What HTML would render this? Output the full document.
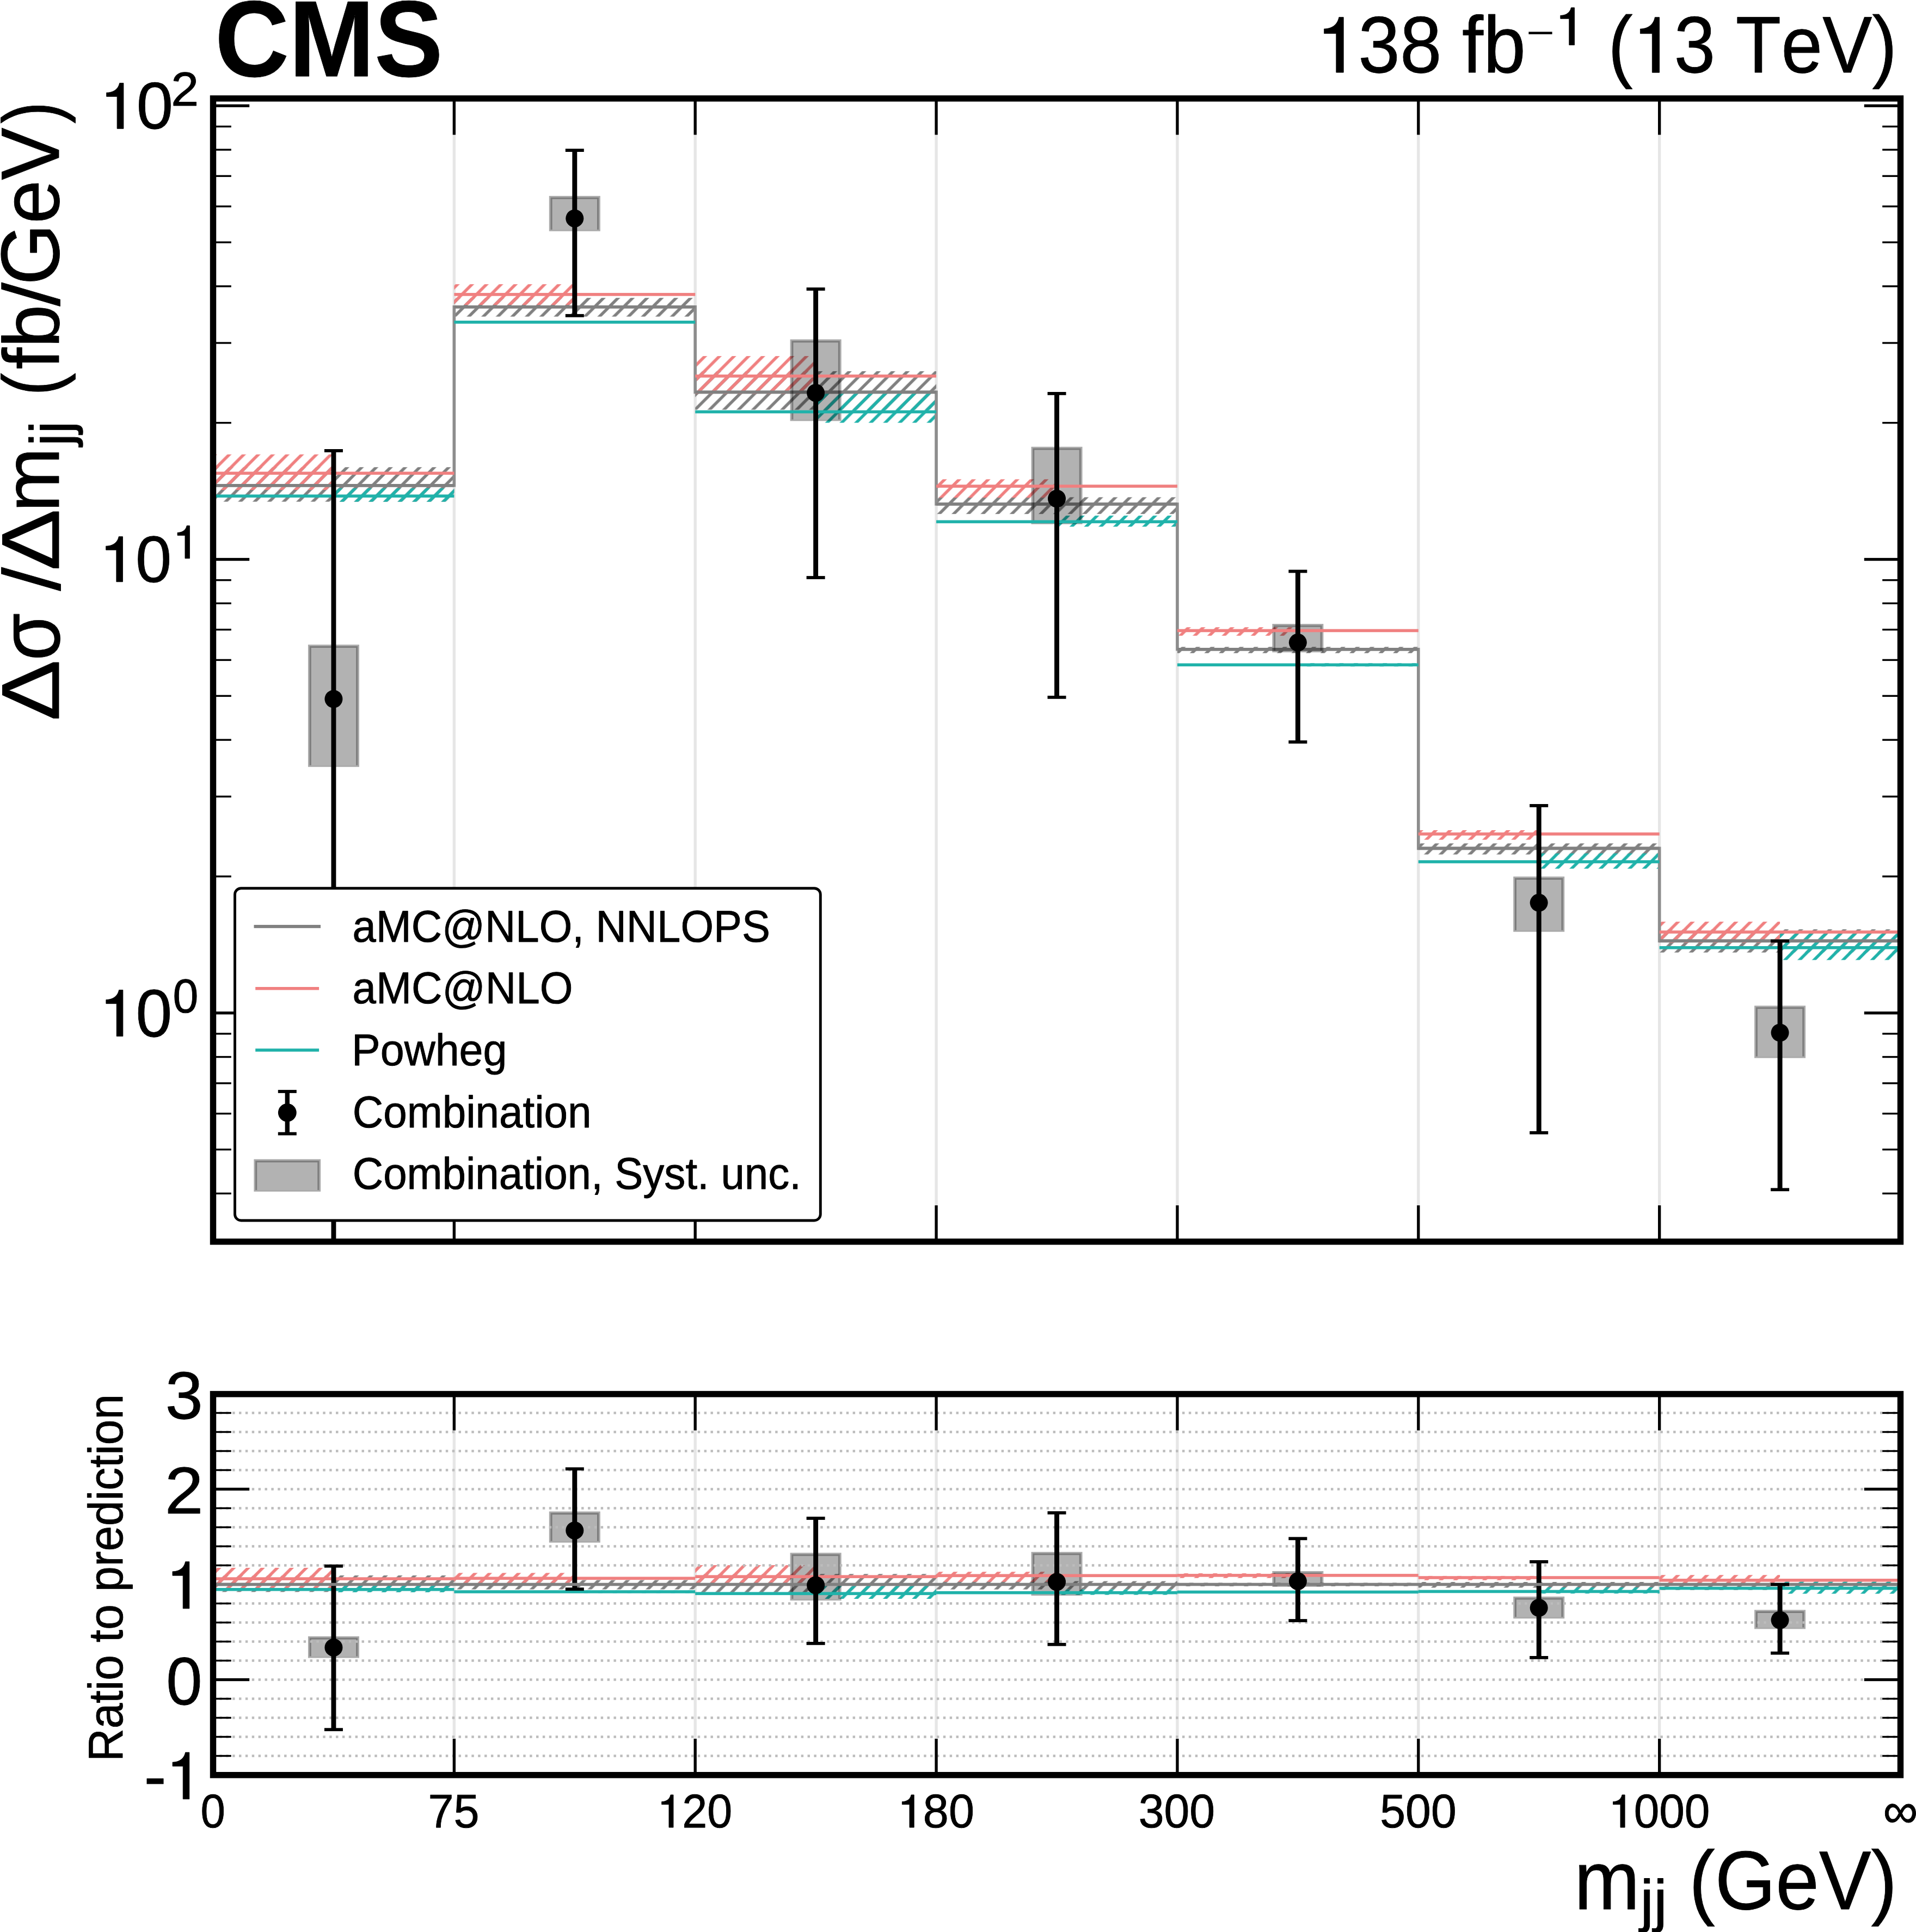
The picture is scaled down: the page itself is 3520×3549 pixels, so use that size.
<!DOCTYPE html>
<html><head><meta charset="utf-8"><title>CMS mjj</title>
<style>
html,body{margin:0;padding:0;background:#fff;width:3520px;height:3549px;overflow:hidden}
svg{display:block}
text{font-family:"Liberation Sans",sans-serif;font-kerning:none;font-variant-ligatures:none;text-rendering:geometricPrecision;stroke:#000;stroke-width:0.9px;stroke-linejoin:round}
</style></head>
<body>
<svg width="3520" height="3549" viewBox="0 0 3520 3549">
<rect x="0" y="0" width="3520" height="3549" fill="#fff"/>
<defs>
<pattern id="hr" patternUnits="userSpaceOnUse" x="2.833" y="0" width="26.6667" height="26.6667"><path d="M-13.333,13.333L13.333,-13.333M0,26.667L26.667,0M13.333,40.000L40.000,13.333" stroke="#f08080" stroke-width="5.5" fill="none"/></pattern>
<pattern id="hg" patternUnits="userSpaceOnUse" x="2.833" y="0" width="26.6667" height="26.6667"><path d="M-13.333,13.333L13.333,-13.333M0,26.667L26.667,0M13.333,40.000L40.000,13.333" stroke="#808080" stroke-width="5.5" fill="none"/></pattern>
<pattern id="ht" patternUnits="userSpaceOnUse" x="2.833" y="0" width="26.6667" height="26.6667"><path d="M-13.333,13.333L13.333,-13.333M0,26.667L26.667,0M13.333,40.000L40.000,13.333" stroke="#20b2aa" stroke-width="5.5" fill="none"/></pattern>
<clipPath id="cm"><rect x="391.5" y="180.9" width="3100.0" height="2100.0"/></clipPath>
<clipPath id="cr"><rect x="391.5" y="2560.85" width="3100.0" height="699.8499999999999"/></clipPath>
</defs>
<g clip-path="url(#cm)">
<rect x="831.66" y="180.90" width="5.40" height="2100.00" fill="#e6e6e6"/>
<rect x="1274.51" y="180.90" width="5.40" height="2100.00" fill="#e6e6e6"/>
<rect x="1717.37" y="180.90" width="5.40" height="2100.00" fill="#e6e6e6"/>
<rect x="2160.23" y="180.90" width="5.40" height="2100.00" fill="#e6e6e6"/>
<rect x="2603.09" y="180.90" width="5.40" height="2100.00" fill="#e6e6e6"/>
<rect x="3045.94" y="180.90" width="5.40" height="2100.00" fill="#e6e6e6"/>
<rect x="391.50" y="858.20" width="442.86" height="63.40" fill="url(#hg)"/>
<rect x="391.50" y="834.70" width="221.43" height="65.30" fill="url(#hr)"/>
<rect x="612.93" y="897.00" width="221.43" height="24.70" fill="url(#ht)"/>
<rect x="834.36" y="547.20" width="442.86" height="34.40" fill="url(#hg)"/>
<rect x="834.36" y="522.10" width="221.43" height="38.00" fill="url(#hr)"/>
<rect x="1055.79" y="590.00" width="221.43" height="3.60" fill="url(#ht)"/>
<rect x="1277.21" y="681.90" width="442.86" height="70.70" fill="url(#hg)"/>
<rect x="1277.21" y="654.10" width="221.43" height="69.50" fill="url(#hr)"/>
<rect x="1498.64" y="719.80" width="221.43" height="56.80" fill="url(#ht)"/>
<rect x="1720.07" y="913.40" width="442.86" height="30.80" fill="url(#hg)"/>
<rect x="1720.07" y="880.40" width="221.43" height="33.80" fill="url(#hr)"/>
<rect x="1941.50" y="947.20" width="221.43" height="20.30" fill="url(#ht)"/>
<rect x="2162.93" y="1188.30" width="442.86" height="11.50" fill="url(#hg)"/>
<rect x="2162.93" y="1152.20" width="221.43" height="15.60" fill="url(#hr)"/>
<rect x="2384.36" y="1218.30" width="221.43" height="6.00" fill="url(#ht)"/>
<rect x="2605.79" y="1549.30" width="442.86" height="20.30" fill="url(#hg)"/>
<rect x="2605.79" y="1525.00" width="221.43" height="17.60" fill="url(#hr)"/>
<rect x="2827.21" y="1567.60" width="221.43" height="28.10" fill="url(#ht)"/>
<rect x="3048.64" y="1707.10" width="442.86" height="42.60" fill="url(#hg)"/>
<rect x="3048.64" y="1693.10" width="221.43" height="39.00" fill="url(#hr)"/>
<rect x="3270.07" y="1715.60" width="221.43" height="47.90" fill="url(#ht)"/>
<path d="M391.50,891.80L834.36,891.80L834.36,563.80L1277.21,563.80L1277.21,720.40L1720.07,720.40L1720.07,926.00L2162.93,926.00L2162.93,1192.80L2605.79,1192.80L2605.79,1558.40L3048.64,1558.40L3048.64,1728.40L3491.50,1728.40" fill="none" stroke="#8d8d8d" stroke-width="5.6" stroke-linejoin="miter"/>
<rect x="391.50" y="889.00" width="442.86" height="5.60" fill="#808080"/>
<rect x="834.36" y="561.00" width="442.86" height="5.60" fill="#808080"/>
<rect x="1277.21" y="717.60" width="442.86" height="5.60" fill="#808080"/>
<rect x="1720.07" y="923.20" width="442.86" height="5.60" fill="#808080"/>
<rect x="2162.93" y="1190.00" width="442.86" height="5.60" fill="#808080"/>
<rect x="2605.79" y="1555.60" width="442.86" height="5.60" fill="#808080"/>
<rect x="3048.64" y="1725.60" width="442.86" height="5.60" fill="#808080"/>
<rect x="565.93" y="1184.20" width="94.00" height="224.60" fill="rgba(0,0,0,0.3)"/><rect x="567.33" y="1185.60" width="91.20" height="221.80" fill="none" stroke="rgba(0,0,0,0.045)" stroke-width="2.8"/><path d="M570.23,1405.80V1188.50H655.63V1405.80" fill="none" stroke="rgba(0,0,0,0.3)" stroke-width="3.0" stroke-linejoin="miter"/>
<rect x="1008.79" y="359.90" width="94.00" height="64.80" fill="rgba(0,0,0,0.3)"/><rect x="1010.19" y="361.30" width="91.20" height="62.00" fill="none" stroke="rgba(0,0,0,0.045)" stroke-width="2.8"/><path d="M1013.09,421.70V364.20H1098.49V421.70" fill="none" stroke="rgba(0,0,0,0.3)" stroke-width="3.0" stroke-linejoin="miter"/>
<rect x="1451.64" y="623.40" width="94.00" height="150.00" fill="rgba(0,0,0,0.3)"/><rect x="1453.04" y="624.80" width="91.20" height="147.20" fill="none" stroke="rgba(0,0,0,0.045)" stroke-width="2.8"/><path d="M1455.94,770.40V627.70H1541.34V770.40" fill="none" stroke="rgba(0,0,0,0.3)" stroke-width="3.0" stroke-linejoin="miter"/>
<rect x="1894.50" y="820.70" width="94.00" height="142.30" fill="rgba(0,0,0,0.3)"/><rect x="1895.90" y="822.10" width="91.20" height="139.50" fill="none" stroke="rgba(0,0,0,0.045)" stroke-width="2.8"/><path d="M1898.80,960.00V825.00H1984.20V960.00" fill="none" stroke="rgba(0,0,0,0.3)" stroke-width="3.0" stroke-linejoin="miter"/>
<rect x="2337.36" y="1146.00" width="94.00" height="52.30" fill="rgba(0,0,0,0.3)"/><rect x="2338.76" y="1147.40" width="91.20" height="49.50" fill="none" stroke="rgba(0,0,0,0.045)" stroke-width="2.8"/><path d="M2341.66,1195.30V1150.30H2427.06V1195.30" fill="none" stroke="rgba(0,0,0,0.3)" stroke-width="3.0" stroke-linejoin="miter"/>
<rect x="2780.21" y="1610.20" width="94.00" height="101.50" fill="rgba(0,0,0,0.3)"/><rect x="2781.61" y="1611.60" width="91.20" height="98.70" fill="none" stroke="rgba(0,0,0,0.045)" stroke-width="2.8"/><path d="M2784.51,1708.70V1614.50H2869.91V1708.70" fill="none" stroke="rgba(0,0,0,0.3)" stroke-width="3.0" stroke-linejoin="miter"/>
<rect x="3223.07" y="1847.40" width="94.00" height="96.20" fill="rgba(0,0,0,0.3)"/><rect x="3224.47" y="1848.80" width="91.20" height="93.40" fill="none" stroke="rgba(0,0,0,0.045)" stroke-width="2.8"/><path d="M3227.37,1940.60V1851.70H3312.77V1940.60" fill="none" stroke="rgba(0,0,0,0.3)" stroke-width="3.0" stroke-linejoin="miter"/>
<rect x="391.50" y="866.50" width="442.86" height="5.60" fill="#f08080"/>
<rect x="391.50" y="908.40" width="442.86" height="5.60" fill="#20b2aa"/>
<rect x="834.36" y="538.10" width="442.86" height="5.60" fill="#f08080"/>
<rect x="834.36" y="589.00" width="442.86" height="5.60" fill="#20b2aa"/>
<rect x="1277.21" y="688.00" width="442.86" height="5.60" fill="#f08080"/>
<rect x="1277.21" y="753.70" width="442.86" height="5.60" fill="#20b2aa"/>
<rect x="1720.07" y="890.30" width="442.86" height="5.60" fill="#f08080"/>
<rect x="1720.07" y="955.60" width="442.86" height="5.60" fill="#20b2aa"/>
<rect x="2162.93" y="1155.60" width="442.86" height="5.60" fill="#f08080"/>
<rect x="2162.93" y="1218.50" width="442.86" height="5.60" fill="#20b2aa"/>
<rect x="2605.79" y="1529.20" width="442.86" height="5.60" fill="#f08080"/>
<rect x="2605.79" y="1580.20" width="442.86" height="5.60" fill="#20b2aa"/>
<rect x="3048.64" y="1709.30" width="442.86" height="5.60" fill="#f08080"/>
<rect x="3048.64" y="1738.00" width="442.86" height="5.60" fill="#20b2aa"/>
<rect x="608.48" y="827.90" width="8.90" height="1463.00" fill="#000"/>
<rect x="595.93" y="825.00" width="34.00" height="5.80" fill="#000"/>
<circle cx="612.93" cy="1284.00" r="16.50" fill="#000"/>
<rect x="1051.34" y="276.10" width="8.90" height="303.70" fill="#000"/>
<rect x="1038.79" y="273.20" width="34.00" height="5.80" fill="#000"/><rect x="1038.79" y="576.90" width="34.00" height="5.80" fill="#000"/>
<circle cx="1055.79" cy="401.20" r="16.50" fill="#000"/>
<rect x="1494.19" y="531.00" width="8.90" height="530.00" fill="#000"/>
<rect x="1481.64" y="528.10" width="34.00" height="5.80" fill="#000"/><rect x="1481.64" y="1058.10" width="34.00" height="5.80" fill="#000"/>
<circle cx="1498.64" cy="721.70" r="16.50" fill="#000"/>
<rect x="1937.05" y="722.90" width="8.90" height="558.00" fill="#000"/>
<rect x="1924.50" y="720.00" width="34.00" height="5.80" fill="#000"/><rect x="1924.50" y="1278.00" width="34.00" height="5.80" fill="#000"/>
<circle cx="1941.50" cy="916.00" r="16.50" fill="#000"/>
<rect x="2379.91" y="1049.50" width="8.90" height="313.50" fill="#000"/>
<rect x="2367.36" y="1046.60" width="34.00" height="5.80" fill="#000"/><rect x="2367.36" y="1360.10" width="34.00" height="5.80" fill="#000"/>
<circle cx="2384.36" cy="1180.30" r="16.50" fill="#000"/>
<rect x="2822.76" y="1479.90" width="8.90" height="600.90" fill="#000"/>
<rect x="2810.21" y="1477.00" width="34.00" height="5.80" fill="#000"/><rect x="2810.21" y="2077.90" width="34.00" height="5.80" fill="#000"/>
<circle cx="2827.21" cy="1658.30" r="16.50" fill="#000"/>
<rect x="3265.62" y="1728.60" width="8.90" height="456.70" fill="#000"/>
<rect x="3253.07" y="1725.70" width="34.00" height="5.80" fill="#000"/><rect x="3253.07" y="2182.40" width="34.00" height="5.80" fill="#000"/>
<circle cx="3270.07" cy="1897.00" r="16.50" fill="#000"/>
</g>
<g clip-path="url(#cr)">
<rect x="831.66" y="2560.85" width="5.40" height="699.85" fill="#e6e6e6"/>
<rect x="1274.51" y="2560.85" width="5.40" height="699.85" fill="#e6e6e6"/>
<rect x="1717.37" y="2560.85" width="5.40" height="699.85" fill="#e6e6e6"/>
<rect x="2160.23" y="2560.85" width="5.40" height="699.85" fill="#e6e6e6"/>
<rect x="2603.09" y="2560.85" width="5.40" height="699.85" fill="#e6e6e6"/>
<rect x="3045.94" y="2560.85" width="5.40" height="699.85" fill="#e6e6e6"/>
<rect x="391.50" y="2894.00" width="442.86" height="30.40" fill="url(#hg)"/>
<rect x="391.50" y="2880.00" width="221.43" height="36.70" fill="url(#hr)"/>
<rect x="612.93" y="2912.90" width="221.43" height="12.00" fill="url(#ht)"/>
<rect x="834.36" y="2902.60" width="442.86" height="17.00" fill="url(#hg)"/>
<rect x="834.36" y="2889.40" width="221.43" height="18.20" fill="url(#hr)"/>
<rect x="1055.79" y="2921.50" width="221.43" height="5.00" fill="url(#ht)"/>
<rect x="1277.21" y="2891.30" width="442.86" height="33.50" fill="url(#hg)"/>
<rect x="1277.21" y="2875.10" width="221.43" height="32.20" fill="url(#hr)"/>
<rect x="1498.64" y="2913.70" width="221.43" height="23.30" fill="url(#ht)"/>
<rect x="1720.07" y="2904.50" width="442.86" height="15.20" fill="url(#hg)"/>
<rect x="1720.07" y="2887.30" width="221.43" height="18.40" fill="url(#hr)"/>
<rect x="1941.50" y="2919.70" width="221.43" height="10.00" fill="url(#ht)"/>
<rect x="2162.93" y="2907.50" width="442.86" height="6.50" fill="url(#hg)"/>
<rect x="2162.93" y="2890.10" width="221.43" height="8.70" fill="url(#hr)"/>
<rect x="2384.36" y="2922.00" width="221.43" height="5.00" fill="url(#ht)"/>
<rect x="2605.79" y="2906.00" width="442.86" height="10.50" fill="url(#hg)"/>
<rect x="2605.79" y="2894.90" width="221.43" height="7.90" fill="url(#hr)"/>
<rect x="2827.21" y="2916.00" width="221.43" height="11.30" fill="url(#ht)"/>
<rect x="3048.64" y="2906.40" width="442.86" height="14.40" fill="url(#hg)"/>
<rect x="3048.64" y="2893.20" width="221.43" height="14.40" fill="url(#hr)"/>
<rect x="3270.07" y="2905.20" width="221.43" height="22.40" fill="url(#ht)"/>
<rect x="565.93" y="3005.80" width="94.00" height="39.80" fill="rgba(0,0,0,0.3)"/><rect x="567.33" y="3007.20" width="91.20" height="37.00" fill="none" stroke="rgba(0,0,0,0.045)" stroke-width="2.8"/><path d="M570.23,3042.60V3010.10H655.63V3042.60" fill="none" stroke="rgba(0,0,0,0.3)" stroke-width="3.0" stroke-linejoin="miter"/>
<rect x="1008.79" y="2776.50" width="94.00" height="57.20" fill="rgba(0,0,0,0.3)"/><rect x="1010.19" y="2777.90" width="91.20" height="54.40" fill="none" stroke="rgba(0,0,0,0.045)" stroke-width="2.8"/><path d="M1013.09,2830.70V2780.80H1098.49V2830.70" fill="none" stroke="rgba(0,0,0,0.3)" stroke-width="3.0" stroke-linejoin="miter"/>
<rect x="1451.64" y="2852.40" width="94.00" height="87.70" fill="rgba(0,0,0,0.3)"/><rect x="1453.04" y="2853.80" width="91.20" height="84.90" fill="none" stroke="rgba(0,0,0,0.045)" stroke-width="2.8"/><path d="M1455.94,2937.10V2856.70H1541.34V2937.10" fill="none" stroke="rgba(0,0,0,0.3)" stroke-width="3.0" stroke-linejoin="miter"/>
<rect x="1894.50" y="2850.80" width="94.00" height="80.40" fill="rgba(0,0,0,0.3)"/><rect x="1895.90" y="2852.20" width="91.20" height="77.60" fill="none" stroke="rgba(0,0,0,0.045)" stroke-width="2.8"/><path d="M1898.80,2928.20V2855.10H1984.20V2928.20" fill="none" stroke="rgba(0,0,0,0.3)" stroke-width="3.0" stroke-linejoin="miter"/>
<rect x="2337.36" y="2886.00" width="94.00" height="28.90" fill="rgba(0,0,0,0.3)"/><rect x="2338.76" y="2887.40" width="91.20" height="26.10" fill="none" stroke="rgba(0,0,0,0.045)" stroke-width="2.8"/><path d="M2341.66,2911.90V2890.30H2427.06V2911.90" fill="none" stroke="rgba(0,0,0,0.3)" stroke-width="3.0" stroke-linejoin="miter"/>
<rect x="2780.21" y="2932.80" width="94.00" height="40.40" fill="rgba(0,0,0,0.3)"/><rect x="2781.61" y="2934.20" width="91.20" height="37.60" fill="none" stroke="rgba(0,0,0,0.045)" stroke-width="2.8"/><path d="M2784.51,2970.20V2937.10H2869.91V2970.20" fill="none" stroke="rgba(0,0,0,0.3)" stroke-width="3.0" stroke-linejoin="miter"/>
<rect x="3223.07" y="2957.30" width="94.00" height="35.10" fill="rgba(0,0,0,0.3)"/><rect x="3224.47" y="2958.70" width="91.20" height="32.30" fill="none" stroke="rgba(0,0,0,0.045)" stroke-width="2.8"/><path d="M3227.37,2989.40V2961.60H3312.77V2989.40" fill="none" stroke="rgba(0,0,0,0.3)" stroke-width="3.0" stroke-linejoin="miter"/>
<rect x="391.50" y="2897.30" width="442.86" height="5.60" fill="#f08080"/>
<rect x="391.50" y="2917.00" width="442.86" height="5.60" fill="#20b2aa"/>
<rect x="834.36" y="2896.50" width="442.86" height="5.60" fill="#f08080"/>
<rect x="834.36" y="2921.20" width="442.86" height="5.60" fill="#20b2aa"/>
<rect x="1277.21" y="2893.40" width="442.86" height="5.60" fill="#f08080"/>
<rect x="1277.21" y="2924.50" width="442.86" height="5.60" fill="#20b2aa"/>
<rect x="1720.07" y="2891.50" width="442.86" height="5.60" fill="#f08080"/>
<rect x="1720.07" y="2922.90" width="442.86" height="5.60" fill="#20b2aa"/>
<rect x="2162.93" y="2891.10" width="442.86" height="5.60" fill="#f08080"/>
<rect x="2162.93" y="2921.70" width="442.86" height="5.60" fill="#20b2aa"/>
<rect x="2605.79" y="2895.20" width="442.86" height="5.60" fill="#f08080"/>
<rect x="2605.79" y="2920.70" width="442.86" height="5.60" fill="#20b2aa"/>
<rect x="3048.64" y="2900.00" width="442.86" height="5.60" fill="#f08080"/>
<rect x="3048.64" y="2914.80" width="442.86" height="5.60" fill="#20b2aa"/>
<line x1="391.50" y1="2595.50" x2="3491.50" y2="2595.50" stroke="#bcbcbc" stroke-width="4.4" stroke-dasharray="4.44 7.43"/>
<line x1="391.50" y1="2630.50" x2="3491.50" y2="2630.50" stroke="#bcbcbc" stroke-width="4.4" stroke-dasharray="4.44 7.43"/>
<line x1="391.50" y1="2665.50" x2="3491.50" y2="2665.50" stroke="#bcbcbc" stroke-width="4.4" stroke-dasharray="4.44 7.43"/>
<line x1="391.50" y1="2700.50" x2="3491.50" y2="2700.50" stroke="#bcbcbc" stroke-width="4.4" stroke-dasharray="4.44 7.43"/>
<line x1="391.50" y1="2735.50" x2="3491.50" y2="2735.50" stroke="#bcbcbc" stroke-width="4.4" stroke-dasharray="4.44 7.43"/>
<line x1="391.50" y1="2770.50" x2="3491.50" y2="2770.50" stroke="#bcbcbc" stroke-width="4.4" stroke-dasharray="4.44 7.43"/>
<line x1="391.50" y1="2805.50" x2="3491.50" y2="2805.50" stroke="#bcbcbc" stroke-width="4.4" stroke-dasharray="4.44 7.43"/>
<line x1="391.50" y1="2840.50" x2="3491.50" y2="2840.50" stroke="#bcbcbc" stroke-width="4.4" stroke-dasharray="4.44 7.43"/>
<line x1="391.50" y1="2875.50" x2="3491.50" y2="2875.50" stroke="#bcbcbc" stroke-width="4.4" stroke-dasharray="4.44 7.43"/>
<line x1="391.50" y1="2910.50" x2="3491.50" y2="2910.50" stroke="#bcbcbc" stroke-width="4.4" stroke-dasharray="4.44 7.43"/>
<line x1="391.50" y1="2945.50" x2="3491.50" y2="2945.50" stroke="#bcbcbc" stroke-width="4.4" stroke-dasharray="4.44 7.43"/>
<line x1="391.50" y1="2980.50" x2="3491.50" y2="2980.50" stroke="#bcbcbc" stroke-width="4.4" stroke-dasharray="4.44 7.43"/>
<line x1="391.50" y1="3015.50" x2="3491.50" y2="3015.50" stroke="#bcbcbc" stroke-width="4.4" stroke-dasharray="4.44 7.43"/>
<line x1="391.50" y1="3050.50" x2="3491.50" y2="3050.50" stroke="#bcbcbc" stroke-width="4.4" stroke-dasharray="4.44 7.43"/>
<line x1="391.50" y1="3085.50" x2="3491.50" y2="3085.50" stroke="#bcbcbc" stroke-width="4.4" stroke-dasharray="4.44 7.43"/>
<line x1="391.50" y1="3120.50" x2="3491.50" y2="3120.50" stroke="#bcbcbc" stroke-width="4.4" stroke-dasharray="4.44 7.43"/>
<line x1="391.50" y1="3155.50" x2="3491.50" y2="3155.50" stroke="#bcbcbc" stroke-width="4.4" stroke-dasharray="4.44 7.43"/>
<line x1="391.50" y1="3190.50" x2="3491.50" y2="3190.50" stroke="#bcbcbc" stroke-width="4.4" stroke-dasharray="4.44 7.43"/>
<line x1="391.50" y1="3225.50" x2="3491.50" y2="3225.50" stroke="#bcbcbc" stroke-width="4.4" stroke-dasharray="4.44 7.43"/>
<rect x="608.48" y="2876.80" width="8.90" height="300.40" fill="#000"/>
<rect x="1051.34" y="2698.30" width="8.90" height="220.90" fill="#000"/>
<rect x="1494.19" y="2789.00" width="8.90" height="229.90" fill="#000"/>
<rect x="1937.05" y="2779.00" width="8.90" height="241.80" fill="#000"/>
<rect x="2379.91" y="2826.30" width="8.90" height="150.70" fill="#000"/>
<rect x="2822.76" y="2868.90" width="8.90" height="176.00" fill="#000"/>
<rect x="3265.62" y="2910.60" width="8.90" height="126.10" fill="#000"/>
</g>
<rect x="391.50" y="2190.68" width="33.30" height="3.4" fill="#000"/>
<rect x="3458.20" y="2190.68" width="33.30" height="3.4" fill="#000"/>
<rect x="391.50" y="2109.93" width="33.30" height="3.4" fill="#000"/>
<rect x="3458.20" y="2109.93" width="33.30" height="3.4" fill="#000"/>
<rect x="391.50" y="2043.96" width="33.30" height="3.4" fill="#000"/>
<rect x="3458.20" y="2043.96" width="33.30" height="3.4" fill="#000"/>
<rect x="391.50" y="1988.17" width="33.30" height="3.4" fill="#000"/>
<rect x="3458.20" y="1988.17" width="33.30" height="3.4" fill="#000"/>
<rect x="391.50" y="1939.85" width="33.30" height="3.4" fill="#000"/>
<rect x="3458.20" y="1939.85" width="33.30" height="3.4" fill="#000"/>
<rect x="391.50" y="1897.23" width="33.30" height="3.4" fill="#000"/>
<rect x="3458.20" y="1897.23" width="33.30" height="3.4" fill="#000"/>
<rect x="391.50" y="1858.15" width="66.70" height="5.3" fill="#000"/>
<rect x="3424.80" y="1858.15" width="66.70" height="5.3" fill="#000"/>
<rect x="391.50" y="1608.27" width="33.30" height="3.4" fill="#000"/>
<rect x="3458.20" y="1608.27" width="33.30" height="3.4" fill="#000"/>
<rect x="391.50" y="1461.54" width="33.30" height="3.4" fill="#000"/>
<rect x="3458.20" y="1461.54" width="33.30" height="3.4" fill="#000"/>
<rect x="391.50" y="1357.43" width="33.30" height="3.4" fill="#000"/>
<rect x="3458.20" y="1357.43" width="33.30" height="3.4" fill="#000"/>
<rect x="391.50" y="1276.68" width="33.30" height="3.4" fill="#000"/>
<rect x="3458.20" y="1276.68" width="33.30" height="3.4" fill="#000"/>
<rect x="391.50" y="1210.71" width="33.30" height="3.4" fill="#000"/>
<rect x="3458.20" y="1210.71" width="33.30" height="3.4" fill="#000"/>
<rect x="391.50" y="1154.92" width="33.30" height="3.4" fill="#000"/>
<rect x="3458.20" y="1154.92" width="33.30" height="3.4" fill="#000"/>
<rect x="391.50" y="1106.60" width="33.30" height="3.4" fill="#000"/>
<rect x="3458.20" y="1106.60" width="33.30" height="3.4" fill="#000"/>
<rect x="391.50" y="1063.98" width="33.30" height="3.4" fill="#000"/>
<rect x="3458.20" y="1063.98" width="33.30" height="3.4" fill="#000"/>
<rect x="391.50" y="1024.90" width="66.70" height="5.3" fill="#000"/>
<rect x="3424.80" y="1024.90" width="66.70" height="5.3" fill="#000"/>
<rect x="391.50" y="775.02" width="33.30" height="3.4" fill="#000"/>
<rect x="3458.20" y="775.02" width="33.30" height="3.4" fill="#000"/>
<rect x="391.50" y="628.29" width="33.30" height="3.4" fill="#000"/>
<rect x="3458.20" y="628.29" width="33.30" height="3.4" fill="#000"/>
<rect x="391.50" y="524.18" width="33.30" height="3.4" fill="#000"/>
<rect x="3458.20" y="524.18" width="33.30" height="3.4" fill="#000"/>
<rect x="391.50" y="443.43" width="33.30" height="3.4" fill="#000"/>
<rect x="3458.20" y="443.43" width="33.30" height="3.4" fill="#000"/>
<rect x="391.50" y="377.46" width="33.30" height="3.4" fill="#000"/>
<rect x="3458.20" y="377.46" width="33.30" height="3.4" fill="#000"/>
<rect x="391.50" y="321.67" width="33.30" height="3.4" fill="#000"/>
<rect x="3458.20" y="321.67" width="33.30" height="3.4" fill="#000"/>
<rect x="391.50" y="273.35" width="33.30" height="3.4" fill="#000"/>
<rect x="3458.20" y="273.35" width="33.30" height="3.4" fill="#000"/>
<rect x="391.50" y="230.73" width="33.30" height="3.4" fill="#000"/>
<rect x="3458.20" y="230.73" width="33.30" height="3.4" fill="#000"/>
<rect x="391.50" y="191.65" width="66.70" height="5.3" fill="#000"/>
<rect x="3424.80" y="191.65" width="66.70" height="5.3" fill="#000"/>
<rect x="831.71" y="180.90" width="5.3" height="66.70" fill="#000"/>
<rect x="831.71" y="2214.20" width="5.3" height="66.70" fill="#000"/>
<rect x="831.71" y="2560.85" width="5.3" height="66.70" fill="#000"/>
<rect x="831.71" y="3194.00" width="5.3" height="66.70" fill="#000"/>
<rect x="1274.56" y="180.90" width="5.3" height="66.70" fill="#000"/>
<rect x="1274.56" y="2214.20" width="5.3" height="66.70" fill="#000"/>
<rect x="1274.56" y="2560.85" width="5.3" height="66.70" fill="#000"/>
<rect x="1274.56" y="3194.00" width="5.3" height="66.70" fill="#000"/>
<rect x="1717.42" y="180.90" width="5.3" height="66.70" fill="#000"/>
<rect x="1717.42" y="2214.20" width="5.3" height="66.70" fill="#000"/>
<rect x="1717.42" y="2560.85" width="5.3" height="66.70" fill="#000"/>
<rect x="1717.42" y="3194.00" width="5.3" height="66.70" fill="#000"/>
<rect x="2160.28" y="180.90" width="5.3" height="66.70" fill="#000"/>
<rect x="2160.28" y="2214.20" width="5.3" height="66.70" fill="#000"/>
<rect x="2160.28" y="2560.85" width="5.3" height="66.70" fill="#000"/>
<rect x="2160.28" y="3194.00" width="5.3" height="66.70" fill="#000"/>
<rect x="2603.14" y="180.90" width="5.3" height="66.70" fill="#000"/>
<rect x="2603.14" y="2214.20" width="5.3" height="66.70" fill="#000"/>
<rect x="2603.14" y="2560.85" width="5.3" height="66.70" fill="#000"/>
<rect x="2603.14" y="3194.00" width="5.3" height="66.70" fill="#000"/>
<rect x="3045.99" y="180.90" width="5.3" height="66.70" fill="#000"/>
<rect x="3045.99" y="2214.20" width="5.3" height="66.70" fill="#000"/>
<rect x="3045.99" y="2560.85" width="5.3" height="66.70" fill="#000"/>
<rect x="3045.99" y="3194.00" width="5.3" height="66.70" fill="#000"/>
<rect x="391.50" y="2557.85" width="66.70" height="5.3" fill="#000"/>
<rect x="3424.80" y="2557.85" width="66.70" height="5.3" fill="#000"/>
<rect x="391.50" y="2593.80" width="33.30" height="3.4" fill="#000"/>
<rect x="3458.20" y="2593.80" width="33.30" height="3.4" fill="#000"/>
<rect x="391.50" y="2628.80" width="33.30" height="3.4" fill="#000"/>
<rect x="3458.20" y="2628.80" width="33.30" height="3.4" fill="#000"/>
<rect x="391.50" y="2663.80" width="33.30" height="3.4" fill="#000"/>
<rect x="3458.20" y="2663.80" width="33.30" height="3.4" fill="#000"/>
<rect x="391.50" y="2698.80" width="33.30" height="3.4" fill="#000"/>
<rect x="3458.20" y="2698.80" width="33.30" height="3.4" fill="#000"/>
<rect x="391.50" y="2732.85" width="66.70" height="5.3" fill="#000"/>
<rect x="3424.80" y="2732.85" width="66.70" height="5.3" fill="#000"/>
<rect x="391.50" y="2768.80" width="33.30" height="3.4" fill="#000"/>
<rect x="3458.20" y="2768.80" width="33.30" height="3.4" fill="#000"/>
<rect x="391.50" y="2803.80" width="33.30" height="3.4" fill="#000"/>
<rect x="3458.20" y="2803.80" width="33.30" height="3.4" fill="#000"/>
<rect x="391.50" y="2838.80" width="33.30" height="3.4" fill="#000"/>
<rect x="3458.20" y="2838.80" width="33.30" height="3.4" fill="#000"/>
<rect x="391.50" y="2873.80" width="33.30" height="3.4" fill="#000"/>
<rect x="3458.20" y="2873.80" width="33.30" height="3.4" fill="#000"/>
<rect x="391.50" y="2907.85" width="66.70" height="5.3" fill="#000"/>
<rect x="3424.80" y="2907.85" width="66.70" height="5.3" fill="#000"/>
<rect x="391.50" y="2943.80" width="33.30" height="3.4" fill="#000"/>
<rect x="3458.20" y="2943.80" width="33.30" height="3.4" fill="#000"/>
<rect x="391.50" y="2978.80" width="33.30" height="3.4" fill="#000"/>
<rect x="3458.20" y="2978.80" width="33.30" height="3.4" fill="#000"/>
<rect x="391.50" y="3013.80" width="33.30" height="3.4" fill="#000"/>
<rect x="3458.20" y="3013.80" width="33.30" height="3.4" fill="#000"/>
<rect x="391.50" y="3048.80" width="33.30" height="3.4" fill="#000"/>
<rect x="3458.20" y="3048.80" width="33.30" height="3.4" fill="#000"/>
<rect x="391.50" y="3082.85" width="66.70" height="5.3" fill="#000"/>
<rect x="3424.80" y="3082.85" width="66.70" height="5.3" fill="#000"/>
<rect x="391.50" y="3118.80" width="33.30" height="3.4" fill="#000"/>
<rect x="3458.20" y="3118.80" width="33.30" height="3.4" fill="#000"/>
<rect x="391.50" y="3153.80" width="33.30" height="3.4" fill="#000"/>
<rect x="3458.20" y="3153.80" width="33.30" height="3.4" fill="#000"/>
<rect x="391.50" y="3188.80" width="33.30" height="3.4" fill="#000"/>
<rect x="3458.20" y="3188.80" width="33.30" height="3.4" fill="#000"/>
<rect x="391.50" y="3223.80" width="33.30" height="3.4" fill="#000"/>
<rect x="3458.20" y="3223.80" width="33.30" height="3.4" fill="#000"/>
<rect x="391.50" y="3257.85" width="66.70" height="5.3" fill="#000"/>
<rect x="3424.80" y="3257.85" width="66.70" height="5.3" fill="#000"/>
<g clip-path="url(#cr)">
<rect x="391.50" y="2907.70" width="3100.00" height="5.60" fill="#808080"/>
<rect x="595.93" y="2873.90" width="34.00" height="5.80" fill="#000"/><rect x="595.93" y="3174.30" width="34.00" height="5.80" fill="#000"/>
<circle cx="612.93" cy="3026.40" r="16.50" fill="#000"/>
<rect x="1038.79" y="2695.40" width="34.00" height="5.80" fill="#000"/><rect x="1038.79" y="2916.30" width="34.00" height="5.80" fill="#000"/>
<circle cx="1055.79" cy="2811.40" r="16.50" fill="#000"/>
<rect x="1481.64" y="2786.10" width="34.00" height="5.80" fill="#000"/><rect x="1481.64" y="3016.00" width="34.00" height="5.80" fill="#000"/>
<circle cx="1498.64" cy="2911.90" r="16.50" fill="#000"/>
<rect x="1924.50" y="2776.10" width="34.00" height="5.80" fill="#000"/><rect x="1924.50" y="3017.90" width="34.00" height="5.80" fill="#000"/>
<circle cx="1941.50" cy="2905.90" r="16.50" fill="#000"/>
<rect x="2367.36" y="2823.40" width="34.00" height="5.80" fill="#000"/><rect x="2367.36" y="2974.10" width="34.00" height="5.80" fill="#000"/>
<circle cx="2384.36" cy="2904.70" r="16.50" fill="#000"/>
<rect x="2810.21" y="2866.00" width="34.00" height="5.80" fill="#000"/><rect x="2810.21" y="3042.00" width="34.00" height="5.80" fill="#000"/>
<circle cx="2827.21" cy="2953.50" r="16.50" fill="#000"/>
<rect x="3253.07" y="2907.70" width="34.00" height="5.80" fill="#000"/><rect x="3253.07" y="3033.80" width="34.00" height="5.80" fill="#000"/>
<circle cx="3270.07" cy="2976.00" r="16.50" fill="#000"/>
</g>
<rect x="391.5" y="180.9" width="3100.0" height="2100.0" fill="none" stroke="#000" stroke-width="11.4" stroke-linejoin="miter"/>
<rect x="391.5" y="2560.85" width="3100.0" height="699.8499999999999" fill="none" stroke="#000" stroke-width="11.4" stroke-linejoin="miter"/>
<rect x="431.5" y="1631.7" width="1075.80" height="610.30" rx="11.5" ry="11.5" fill="#fff" stroke="#000" stroke-width="4.9"/>
<rect x="466.50" y="1698.95" width="122.50" height="5.90" fill="#808080"/>
<rect x="469.20" y="1813.00" width="116.90" height="5.60" fill="#f08080"/>
<rect x="469.20" y="1926.20" width="116.90" height="5.60" fill="#20b2aa"/>
<rect x="523.65" y="2005.00" width="8.30" height="77.60" fill="#000"/>
<rect x="510.80" y="2002.10" width="34.00" height="5.80" fill="#000"/><rect x="510.80" y="2079.70" width="34.00" height="5.80" fill="#000"/>
<circle cx="527.80" cy="2043.90" r="16.90" fill="#000"/>
<rect x="466.40" y="2129.40" width="122.70" height="59.50" fill="rgba(0,0,0,0.3)"/><rect x="467.80" y="2130.80" width="119.90" height="56.70" fill="none" stroke="rgba(0,0,0,0.045)" stroke-width="2.8"/><path d="M470.70,2185.90V2133.70H584.80V2185.90" fill="none" stroke="rgba(0,0,0,0.3)" stroke-width="3.0" stroke-linejoin="miter"/>
<g transform="translate(647.49,1729.60) scale(0.9505,1.0000)"><text font-size="81.98" fill="#000">aMC@NLO, NNLOPS</text></g>
<g transform="translate(647.48,1843.00) scale(0.9532,1.0000)"><text font-size="81.98" fill="#000">aMC@NLO</text></g>
<g transform="translate(646.02,1956.50) scale(0.9636,1.0000)"><text font-size="81.98" fill="#000">Powheg</text></g>
<g transform="translate(647.83,2070.50) scale(0.9531,1.0000)"><text font-size="81.98" fill="#000">Combination</text></g>
<g transform="translate(647.84,2184.40) scale(0.9520,1.0000)"><text font-size="81.98" fill="#000">Combination, Syst. unc.</text></g>
<g transform="translate(395.08,139.70) scale(0.9471,1.0000)"><text font-size="198.84" font-weight="bold" fill="#000">CMS</text></g>
<g transform="translate(2418.78,133.10) scale(0.9345,1.0000)"><path transform="translate(0.000,0) scale(0.071965)" d="M735,0L735,-1409L611.7,-1409C561,-1173.7 354.5,-1113.1 207,-1113.1L207,-993.3L536.3,-993.3L536.3,0Z" fill="#000" stroke="#000" stroke-width="12.506" stroke-linejoin="round"/><text x="81.968" font-size="147.38" fill="#000">38</text></g>
<g transform="translate(2685.91,133.10) scale(0.9517,1.0000)"><text font-size="147.38" fill="#000">fb</text></g>
<rect x="2808.4" y="58.4" width="43.2" height="4.5" fill="#000"/>
<g transform="translate(2856.72,82.70) scale(0.9983,1.0000)"><path transform="translate(0.000,0) scale(0.048757)" d="M735,0L735,-1409L611.7,-1409C561,-1173.7 354.5,-1113.1 207,-1113.1L207,-993.3L536.3,-993.3L536.3,0Z" fill="#000" stroke="#000" stroke-width="18.459" stroke-linejoin="round"/></g>
<g transform="translate(2954.25,133.20) scale(0.9250,1.0000)"><text x="0.000" font-size="147.38" fill="#000">(</text><path transform="translate(49.080,0) scale(0.071965)" d="M735,0L735,-1409L611.7,-1409C561,-1173.7 354.5,-1113.1 207,-1113.1L207,-993.3L536.3,-993.3L536.3,0Z" fill="#000" stroke="#000" stroke-width="12.506" stroke-linejoin="round"/><text x="131.048" font-size="147.38" fill="#000">3</text></g>
<g transform="translate(3188.83,133.20) scale(0.9272,1.0000)"><text font-size="147.38" fill="#000">TeV)</text></g>
<g transform="translate(183.46,236.31) scale(0.9956,1.0000)"><path transform="translate(0.000,0) scale(0.059379)" d="M735,0L735,-1409L611.7,-1409C561,-1173.7 354.5,-1113.1 207,-1113.1L207,-993.3L536.3,-993.3L536.3,0Z" fill="#000" stroke="#000" stroke-width="15.157" stroke-linejoin="round"/><text x="67.633" font-size="121.61" fill="#000">0</text></g>
<g transform="translate(314.20,194.20) scale(1.0443,1.0000)"><text font-size="87.65" fill="#000">2</text></g>
<g transform="translate(182.65,1068.72) scale(0.9884,1.0000)"><path transform="translate(0.000,0) scale(0.058897)" d="M735,0L735,-1409L611.7,-1409C561,-1173.7 354.5,-1113.1 207,-1113.1L207,-993.3L536.3,-993.3L536.3,0Z" fill="#000" stroke="#000" stroke-width="15.281" stroke-linejoin="round"/><text x="67.083" font-size="120.62" fill="#000">0</text></g>
<g transform="translate(317.36,1025.80) scale(0.9918,1.0000)"><path transform="translate(0.000,0) scale(0.042583)" d="M735,0L735,-1409L611.7,-1409C561,-1173.7 354.5,-1113.1 207,-1113.1L207,-993.3L536.3,-993.3L536.3,0Z" fill="#000" stroke="#000" stroke-width="21.135" stroke-linejoin="round"/></g>
<g transform="translate(182.78,1903.59) scale(0.9705,1.0000)"><path transform="translate(0.000,0) scale(0.060345)" d="M735,0L735,-1409L611.7,-1409C561,-1173.7 354.5,-1113.1 207,-1113.1L207,-993.3L536.3,-993.3L536.3,0Z" fill="#000" stroke="#000" stroke-width="14.914" stroke-linejoin="round"/><text x="68.733" font-size="123.59" fill="#000">0</text></g>
<g transform="translate(317.61,1860.14) scale(0.9596,1.0000)"><text font-size="87.85" fill="#000">0</text></g>
<g transform="translate(303.78,2605.60) scale(1.0058,1.0000)"><text font-size="123.30" fill="#000">3</text></g>
<g transform="translate(302.70,2779.70) scale(1.0446,1.0000)"><text font-size="121.88" fill="#000">2</text></g>
<g transform="translate(304.93,2954.80) scale(0.9557,1.0000)"><path transform="translate(0.000,0) scale(0.061036)" d="M735,0L735,-1409L611.7,-1409C561,-1173.7 354.5,-1113.1 207,-1113.1L207,-993.3L536.3,-993.3L536.3,0Z" fill="#000" stroke="#000" stroke-width="14.745" stroke-linejoin="round"/></g>
<g transform="translate(305.14,3130.79) scale(0.9626,1.0000)"><text font-size="123.87" fill="#000">0</text></g>
<g transform="translate(305.06,3304.80) scale(0.9559,1.0000)"><path transform="translate(0.000,0) scale(0.060823)" d="M735,0L735,-1409L611.7,-1409C561,-1173.7 354.5,-1113.1 207,-1113.1L207,-993.3L536.3,-993.3L536.3,0Z" fill="#000" stroke="#000" stroke-width="14.797" stroke-linejoin="round"/></g>
<g transform="translate(264.42,3304.80) scale(0.9943,1.0000)"><text font-size="124.00" fill="#000">-</text></g>
<g transform="translate(368.61,3356.90) scale(0.9378,1.0000)"><text font-size="87.00" fill="#000">0</text></g>
<g transform="translate(786.57,3356.90) scale(0.9712,1.0000)"><text font-size="87.00" fill="#000">75</text></g>
<g transform="translate(1207.35,3356.90) scale(0.9499,1.0000)"><path transform="translate(0.000,0) scale(0.042480)" d="M735,0L735,-1409L611.7,-1409C561,-1173.7 354.5,-1113.1 207,-1113.1L207,-993.3L536.3,-993.3L536.3,0Z" fill="#000" stroke="#000" stroke-width="21.186" stroke-linejoin="round"/><text x="48.385" font-size="87.00" fill="#000">20</text></g>
<g transform="translate(1648.86,3356.90) scale(0.9717,1.0000)"><path transform="translate(0.000,0) scale(0.042480)" d="M735,0L735,-1409L611.7,-1409C561,-1173.7 354.5,-1113.1 207,-1113.1L207,-993.3L536.3,-993.3L536.3,0Z" fill="#000" stroke="#000" stroke-width="21.186" stroke-linejoin="round"/><text x="48.385" font-size="87.00" fill="#000">80</text></g>
<g transform="translate(2091.70,3356.90) scale(0.9665,1.0000)"><text font-size="87.00" fill="#000">300</text></g>
<g transform="translate(2535.33,3356.90) scale(0.9669,1.0000)"><text font-size="87.00" fill="#000">500</text></g>
<g transform="translate(2955.03,3356.90) scale(0.9633,1.0000)"><path transform="translate(0.000,0) scale(0.042480)" d="M735,0L735,-1409L611.7,-1409C561,-1173.7 354.5,-1113.1 207,-1113.1L207,-993.3L536.3,-993.3L536.3,0Z" fill="#000" stroke="#000" stroke-width="21.186" stroke-linejoin="round"/><text x="48.385" font-size="87.00" fill="#000">000</text></g>
<g transform="translate(3459.60,3356.53) scale(0.9938,1.0000)"><text font-size="90.06" fill="#000">∞</text></g>
<g transform="translate(2891.89,3506.70) scale(0.9459,1.0000)"><text font-size="153.00" fill="#000">m</text></g>
<g transform="translate(3013.14,3528.00) scale(1.0501,1.0000)"><text font-size="107.00" fill="#000">jj</text></g>
<g transform="translate(3103.01,3506.70) scale(0.9368,1.0000)"><text font-size="153.00" fill="#000">(GeV)</text></g>
<g transform="translate(107.90,1324.32) rotate(-90) scale(1.1186,1.0000)"><text font-size="150.58" fill="#000">Δ</text></g>
<g transform="translate(108.55,1213.45) rotate(-90) scale(0.8943,1.0000)"><text font-size="158.52" fill="#000">σ</text></g>
<g transform="translate(109.55,1085.40) rotate(-90) scale(1.0573,1.0000)"><text font-size="148.43" fill="#000">/</text></g>
<g transform="translate(107.90,1048.57) rotate(-90) scale(1.1306,1.0000)"><text font-size="150.58" fill="#000">Δ</text></g>
<g transform="translate(108.00,940.44) rotate(-90) scale(0.9744,1.0000)"><text font-size="145.89" fill="#000">m</text></g>
<g transform="translate(129.50,818.91) rotate(-90) scale(0.9547,1.0000)"><text font-size="107.00" fill="#000">jj</text></g>
<g transform="translate(108.36,726.89) rotate(-90) scale(0.8541,1.0000)"><text font-size="147.05" fill="#000">(</text></g>
<g transform="translate(107.88,678.22) rotate(-90) scale(0.9768,1.0000)"><text font-size="145.70" fill="#000">fb</text></g>
<g transform="translate(108.57,562.60) rotate(-90) scale(1.0676,1.0000)"><text font-size="146.66" fill="#000">/</text></g>
<g transform="translate(107.80,523.46) rotate(-90) scale(0.9502,1.0000)"><text font-size="152.00" fill="#000">GeV</text></g>
<g transform="translate(108.36,227.10) rotate(-90) scale(0.8182,1.0000)"><text font-size="147.05" fill="#000">)</text></g>
<g transform="translate(225.40,3235.67) rotate(-90) scale(0.9380,1.0000)"><text font-size="89.24" fill="#000">Ratio to prediction</text></g>
</svg>
</body></html>
